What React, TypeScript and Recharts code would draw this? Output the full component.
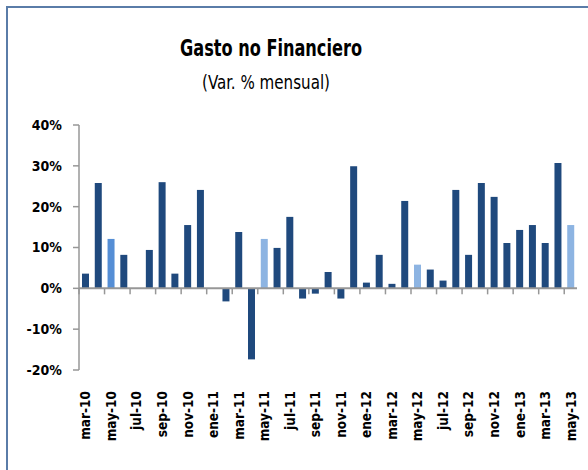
import { BarChart, Bar, Cell, XAxis, YAxis, ReferenceLine } from 'recharts';

const months = [
  'mar-10', 'abr-10', 'may-10', 'jun-10', 'jul-10', 'ago-10', 'sep-10', 'oct-10', 'nov-10', 'dic-10',
  'ene-11', 'feb-11', 'mar-11', 'abr-11', 'may-11', 'jun-11', 'jul-11', 'ago-11', 'sep-11', 'oct-11',
  'nov-11', 'dic-11', 'ene-12', 'feb-12', 'mar-12', 'abr-12', 'may-12', 'jun-12', 'jul-12', 'ago-12',
  'sep-12', 'oct-12', 'nov-12', 'dic-12', 'ene-13', 'feb-13', 'mar-13', 'abr-13', 'may-13',
];

const varMensual = [
  3.6, 25.8, 12.1, 8.2, 0, 9.4, 26.0, 3.6, 15.5, 24.1,
  0, -3.2, 13.8, -17.4, 12.1, 9.9, 17.5, -2.5, -1.3, 4.0,
  -2.5, 29.9, 1.4, 8.2, 1.1, 21.4, 5.8, 4.6, 1.9, 24.1,
  8.2, 25.8, 22.4, 11.1, 14.3, 15.5, 11.1, 30.7, 15.5,
];

const yTicks = [-20, -10, 0, 10, 20, 30, 40];

const title = 'Gasto no Financiero';
const subtitle = '(Var. % mensual)';

const COLORS = {
  dark: '#1F497D',
  mid: '#558ED5',
  light: '#8DB4E2',
  axis: '#979797',
};

const W = 588;
const H = 470;
const M = { top: 125, right: 11, bottom: 0, left: 0 };
const Y_AXIS_W = 79;
const X_AXIS_H = 100;
const FONT = "'DejaVu Sans Condensed', 'Liberation Sans', Arial, sans-serif";

const plotW = W - M.left - M.right - Y_AXIS_W;
const plotH = H - M.top - M.bottom - X_AXIS_H;
const band = plotW / months.length;
const zeroY = M.top + (plotH * yTicks[yTicks.length - 1]) / (yTicks[yTicks.length - 1] - yTicks[0]);

const data = months.map((m, i) => ({ month: m, value: varMensual[i] }));

function barColor(m: string) {
  if (m === 'may-10') return COLORS.mid;
  if (m.startsWith('may')) return COLORS.light;
  return COLORS.dark;
}

function MonthTick(props: any) {
  const { x, y, payload } = props;
  const edge = x - band / 2;
  const tx = x + 5;
  const ty = y + 13;
  return (
    <g>
      <line x1={edge} x2={edge} y1={zeroY} y2={zeroY + 6} stroke={COLORS.axis} strokeWidth={1.5} />
      <text
        x={tx}
        y={ty}
        transform={`rotate(-90, ${tx}, ${ty})`}
        textAnchor="end"
        fontFamily={FONT}
        fontWeight="bold"
        fontSize={13.5}
        fill="#000"
      >
        {payload.value}
      </text>
    </g>
  );
}

export default function App() {
  return (
    <div style={{ position: 'absolute', left: 0, top: 0, width: W, height: H, background: '#fff', overflow: 'hidden' }}>
      <div
        style={{
          position: 'absolute', left: 6, top: 6, width: W + 10, height: H + 10,
          border: '2px solid #5A7CA8', boxSizing: 'border-box',
        }}
      />
      <svg width={W} height={110} style={{ position: 'absolute', left: 0, top: 0 }}>
        <text
          x={271}
          y={56}
          textAnchor="middle"
          fontFamily={FONT}
          fontWeight="bold"
          fontSize={23}
          textLength={182}
          lengthAdjust="spacingAndGlyphs"
          fill="#000"
        >
          {title}
        </text>
        <text
          x={266}
          y={89}
          textAnchor="middle"
          fontFamily={FONT}
          fontSize={20}
          textLength={128}
          lengthAdjust="spacingAndGlyphs"
          fill="#000"
        >
          {subtitle}
        </text>
      </svg>
      <div style={{ position: 'absolute', left: 0, top: 0 }}>
        <BarChart width={W} height={H} data={data} margin={M} barSize={7}>
          <YAxis
            width={Y_AXIS_W}
            domain={[-20, 40]}
            ticks={yTicks}
            interval={0}
            tickFormatter={(v) => `${v}%`}
            axisLine={{ stroke: COLORS.axis, strokeWidth: 1.5 }}
            tickLine={{ stroke: COLORS.axis, strokeWidth: 1.5 }}
            tickSize={6}
            tickMargin={11}
            tick={{ fill: '#000', fontFamily: FONT, fontWeight: 'bold', fontSize: 14 }}
          />
          <XAxis
            dataKey="month"
            height={X_AXIS_H}
            interval={1}
            axisLine={false}
            tickLine={false}
            tick={<MonthTick />}
          />
          <ReferenceLine y={0} stroke={COLORS.axis} strokeWidth={2} />
          <Bar dataKey="value" isAnimationActive={false}>
            {data.map((d, i) => (
              <Cell key={`cell-${i}`} fill={barColor(d.month)} />
            ))}
          </Bar>
        </BarChart>
      </div>
    </div>
  );
}
